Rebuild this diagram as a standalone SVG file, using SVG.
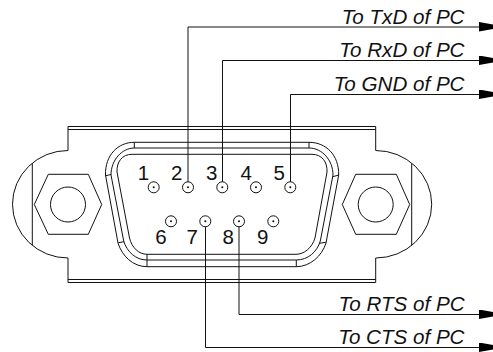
<svg xmlns="http://www.w3.org/2000/svg" width="493" height="352" viewBox="0 0 493 352">
<style>
.l{fill:none;stroke:#111;stroke-width:1}
.t{font-family:"Liberation Sans",Arial,sans-serif;font-size:20.500px;fill:#111;text-anchor:middle}
.i{font-family:"Liberation Sans",Arial,sans-serif;font-size:20.600px;font-style:italic;fill:#111;text-anchor:end}
.d{fill:#111;stroke:none}
.p{fill:#fff;stroke:#111;stroke-width:1}
</style>
<defs>
<marker id="a" markerUnits="userSpaceOnUse" markerWidth="14" markerHeight="10" refX="14" refY="5" orient="auto"><path d="M0 0L14 2.500V7L0 9.500Z" fill="#000"/></marker>
</defs>
<g id="connector-body">
<path class="l" d="M68 126.500H375.700M68 129.500H375.700"/>
<path class="l" d="M375.700 126.500V150.500A56 53.750 0 0 1 375.700 258V282.500H68V258A55.500 53.750 0 0 1 68 150.500V126.500M68 279.500H375.700"/>
<path class="l" d="M32.300 163.500V245.500M411.700 163.500V245.500"/>
<path class="l" d="M134.300 142.300C118 142.300 105 155 105.500 175L118 243C122 256 133 266.700 147 266.700H296.300C310 266.700 322 256 326 243L338.700 175C339 155 326 142.300 309 142.300Z"/>
<path class="l" d="M134.300 148C122 148 111 160 111 175L123.700 241C127 252 136 260 147 260H296.300C308 260 317 252 320.300 241L333 175C333 160 322 148 309 148Z"/>
<path class="l" d="M132 154.300H312C322 154.300 327.500 162 327 172L315 238C312 248 304 254.300 296 254.300H147C139 254.300 132 248 129.500 238L117 172C116.500 162 122 154.300 132 154.300Z"/>
<path class="l" d="M134.300 142.300V148M309 142.300V148M147 254.300V266.700M296.300 260V266.700M105.500 175.700L111 174.500M332.700 176.700L339 175M118.300 242.700L124 241.700M319.300 243.300L325.700 242.300"/>
</g>
<g id="screw-left"><path class="l" d="M34.300 204.500L48.300 174.300H88.300L101.700 204.500L88.300 234.300H48.300Z"/><circle class="l" cx="68" cy="204.500" r="17.500"/></g>
<g id="screw-right"><path class="l" d="M342.300 204.500L355.700 174.300H396.300L409.700 204.500L396.300 234.300H355.700Z"/><circle class="l" cx="375.700" cy="204.500" r="17.500"/></g>
<g id="connectors">
<path class="l" marker-end="url(#a)" d="M188 187.300V27H493"/>
<path class="l" marker-end="url(#a)" d="M222.500 187.300V60.500H493"/>
<path class="l" marker-end="url(#a)" d="M290.500 187.300V94.500H493"/>
<path class="l" marker-end="url(#a)" d="M239 221.300V314.500H493"/>
<path class="l" marker-end="url(#a)" d="M205.500 221.300V347.500H493"/>
</g>
<g id="pin1"><circle class="p" cx="153.700" cy="187.300" r="5.500"/><circle class="d" cx="153.700" cy="187.300" r="1"/><text class="t" x="143.500" y="179.500">1</text></g>
<g id="pin2"><circle class="p" cx="188" cy="187.300" r="5.500"/><circle class="d" cx="188" cy="187.300" r="1"/><text class="t" x="176.700" y="179.500">2</text></g>
<g id="pin3"><circle class="p" cx="222.300" cy="187.300" r="5.500"/><circle class="d" cx="222.300" cy="187.300" r="1"/><text class="t" x="211.700" y="179.500">3</text></g>
<g id="pin4"><circle class="p" cx="256" cy="187.300" r="5.500"/><circle class="d" cx="256" cy="187.300" r="1"/><text class="t" x="246.300" y="179.500">4</text></g>
<g id="pin5"><circle class="p" cx="290.300" cy="187.300" r="5.500"/><circle class="d" cx="290.300" cy="187.300" r="1"/><text class="t" x="279.300" y="179.500">5</text></g>
<g id="pin6"><circle class="p" cx="171" cy="221.300" r="5.500"/><circle class="d" cx="171" cy="221.300" r="1"/><text class="t" x="161" y="243.500">6</text></g>
<g id="pin7"><circle class="p" cx="205.300" cy="221.300" r="5.500"/><circle class="d" cx="205.300" cy="221.300" r="1"/><text class="t" x="192.300" y="243.500">7</text></g>
<g id="pin8"><circle class="p" cx="239" cy="221.300" r="5.500"/><circle class="d" cx="239" cy="221.300" r="1"/><text class="t" x="228.300" y="243.500">8</text></g>
<g id="pin9"><circle class="p" cx="273.300" cy="221.300" r="5.500"/><circle class="d" cx="273.300" cy="221.300" r="1"/><text class="t" x="262.700" y="243.500">9</text></g>
<g id="labels">
<text class="i" x="464.500" y="23.500">To TxD of PC</text>
<text class="i" x="464.500" y="57">To RxD of PC</text>
<text class="i" x="464.500" y="91">To GND of PC</text>
<text class="i" x="464.500" y="311">To RTS of PC</text>
<text class="i" x="464.500" y="344">To CTS of PC</text>
</g>
</svg>
